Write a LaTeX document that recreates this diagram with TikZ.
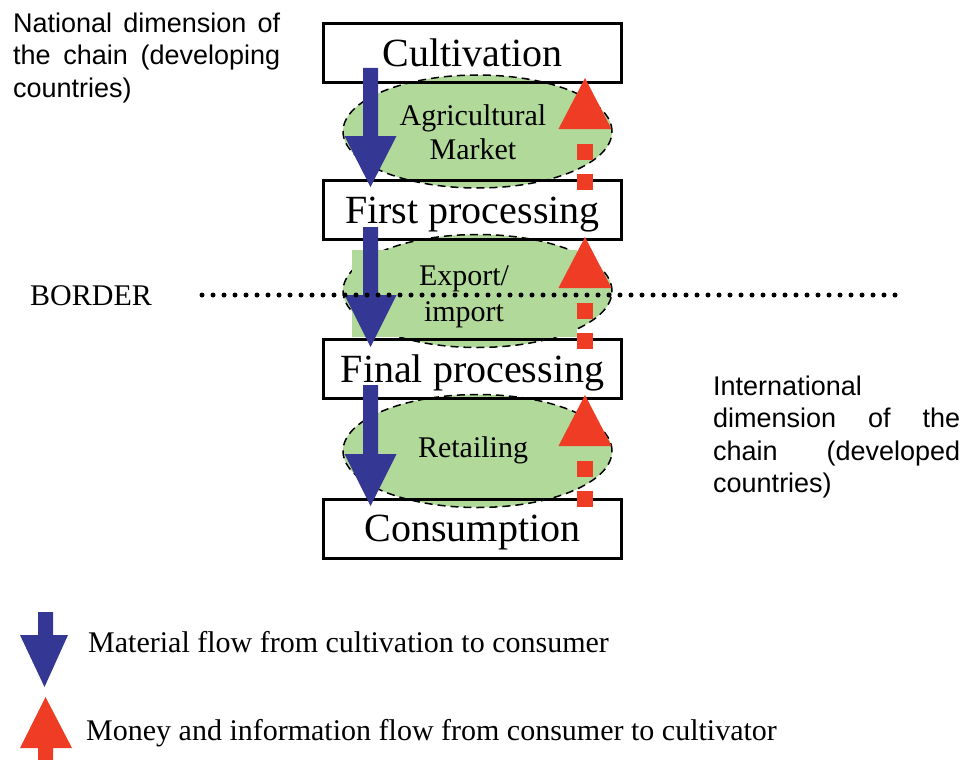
\documentclass[tikz,border=0pt]{standalone}
\usepackage{fontspec}
\setmainfont{Liberation Serif}
\newfontfamily\arialfont{Liberation Sans}
\usetikzlibrary{shapes.geometric}

\definecolor{flowblue}{RGB}{53,55,149}
\definecolor{flowred}{RGB}{238,61,36}
\definecolor{marketgreen}{RGB}{176,217,154}

% block arrow pointing down: centre x, shaft top, head top, tip
\newcommand\matflow[4]{%
  \fill[flowblue] ({#1-7.5},#2) -- ({#1+7.5},#2) -- ({#1+7.5},#3) -- ({#1+26},#3)
    -- (#1,#4) -- ({#1-26},#3) -- ({#1-7.5},#3) -- cycle;}
% triangle pointing up with a dashed (square) shaft: centre x, tip
\newcommand\cashflow[2]{%
  \fill[flowred] (#1,#2) -- ({#1+26.5},{#2+51}) -- ({#1-26.5},{#2+51}) -- cycle;
  \fill[flowred] ({#1-8},{#2+66}) rectangle ({#1+8},{#2+82});
  \fill[flowred] ({#1-8},{#2+96}) rectangle ({#1+8},{#2+112});}

\begin{document}
\begin{tikzpicture}[x=1pt,y=-1pt,
  stagebox/.style={draw=black, line width=3pt, minimum width=298pt, minimum height=59pt,
    inner sep=0pt, text height=26.5pt, text depth=0pt, font=\fontsize{40}{44}\selectfont},
  market/.style={ellipse, draw=black, dash pattern=on 8pt off 5pt, line width=1.5pt,
    fill=marketgreen, minimum width=269pt, minimum height=113pt, inner sep=0pt},
  marketlabel/.style={align=center, inner sep=0pt, anchor=base,
    font=\fontsize{30}{34}\selectfont},
  serifnote/.style={inner sep=0pt, anchor=base west, font=\fontsize{30}{34}\selectfont},
  sidenote/.style={inner sep=0pt, anchor=north west, align=justify,
    font=\arialfont\fontsize{27}{32.5}\selectfont},
  borderline/.style={line width=5pt, line cap=round, dash pattern=on 0pt off 11pt}
]
\useasboundingbox (0,0) rectangle (964,760);

% markets between the stages
\node[market] (agri) at (477.5,131.5) {};
\node[market] (trade) at (477.5,291) {};
\node[market] (retail) at (477.5,451) {};
\fill[marketgreen] (352,250) rectangle (577,337);

% stages of the chain
\node[stagebox] (cult) at (472.5,53) {Cultivation};
\node[stagebox] (firstproc) at (472.5,210) {First processing};
\node[stagebox] (finalproc) at (472.5,369) {Final processing};
\node[stagebox] (consum) at (472.5,528.5) {Consumption};

% labels sit on the baseline of their last line
\node[marketlabel] (agrilabel) at (473,159) {Agricultural\\Market};
\node[marketlabel] (tradelabel) at (464,321) {Export/\\[2pt]import};
\node[marketlabel] (retaillabel) at (473,457) {Retailing};

% material and money flows
\matflow{370.5}{68}{136}{187}
\matflow{370.5}{227}{295}{347}
\matflow{370.5}{385}{454}{506}
\cashflow{585}{78}
\cashflow{585}{237}
\cashflow{585}{395}

% national border
\node[serifnote] (borderlabel) at (30,305) {BORDER};
\coordinate (borderstart) at (202,295);
\coordinate (borderend) at (905,295);
\draw[borderline] (borderstart) -- (borderend);

% side notes
\node[sidenote, text width=267pt] (national) at (13,12.5)
  {\noindent National dimension of\linebreak the chain (developing\linebreak countries)};
\node[sidenote, text width=247pt] (international) at (713,375.5)
  {\noindent International\newline dimension of the\linebreak chain (developed\linebreak countries)};

% legend
\fill[flowblue] (38,612) -- (53,612) -- (53,635) -- (68,635) -- (44.5,687)
  -- (20,635) -- (38,635) -- cycle;
\fill[flowred] (45.5,697) -- (72,748) -- (53,748) -- (53,760) -- (38,760)
  -- (38,748) -- (20,748) -- cycle;
\node[serifnote] (matlegend) at (88,652) {Material flow from cultivation to consumer};
\node[serifnote] (cashlegend) at (86,740) {Money and information flow from consumer to cultivator};
\end{tikzpicture}
\end{document}
